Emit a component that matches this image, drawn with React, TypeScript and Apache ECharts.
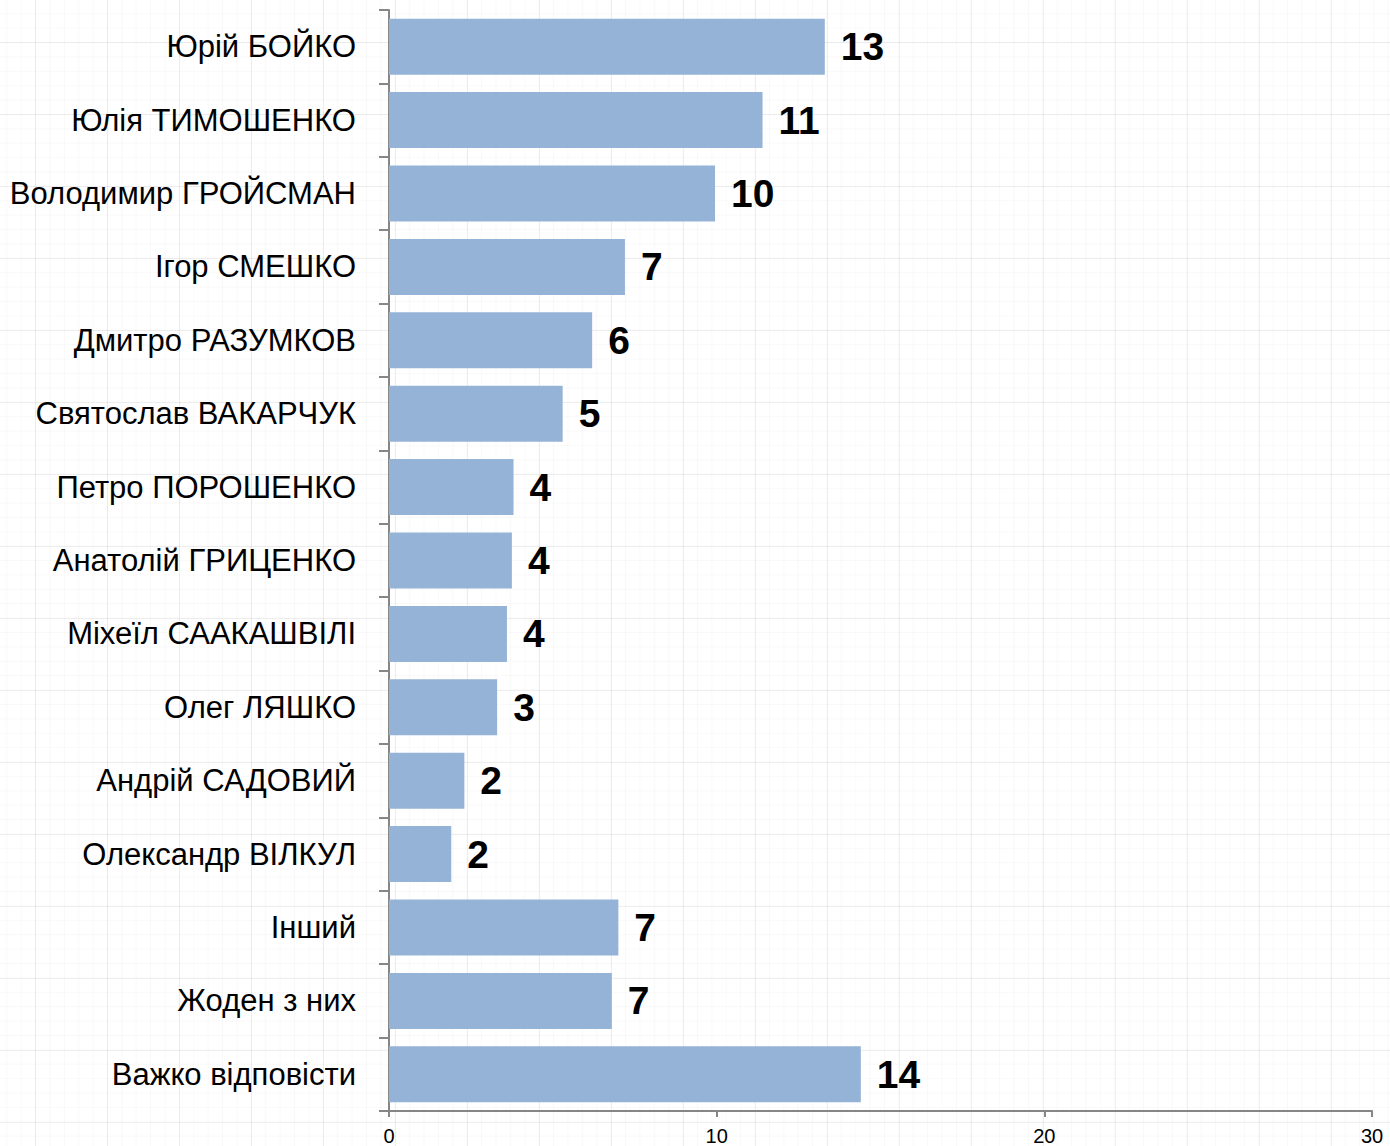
import React, { useEffect, useRef } from "react";
import * as echarts from "echarts";

const categories = [
  "Юрій БОЙКО",
  "Юлія ТИМОШЕНКО",
  "Володимир ГРОЙСМАН",
  "Ігор СМЕШКО",
  "Дмитро РАЗУМКОВ",
  "Святослав ВАКАРЧУК",
  "Петро ПОРОШЕНКО",
  "Анатолій ГРИЦЕНКО",
  "Міхеїл СААКАШВІЛІ",
  "Олег ЛЯШКО",
  "Андрій САДОВИЙ",
  "Олександр ВІЛКУЛ",
  "Інший",
  "Жоден з них",
  "Важко відповісти",
];

const values = [13.3, 11.4, 9.95, 7.2, 6.2, 5.3, 3.8, 3.75, 3.6, 3.3, 2.3, 1.9, 7.0, 6.8, 14.4];

const xTicks = [0, 10, 20, 30];

const bgStyle: React.CSSProperties = {
  position: "fixed",
  left: 0,
  top: 0,
  width: 1390,
  height: 1146,
  backgroundColor: "#ffffff",
  backgroundImage:
    "linear-gradient(to right, rgba(0,0,0,0.055) 1px, transparent 1px)," +
    "linear-gradient(to bottom, rgba(0,0,0,0.055) 1px, transparent 1px)," +
    "linear-gradient(to right, rgba(0,0,0,0.025) 1px, transparent 1px)," +
    "linear-gradient(to bottom, rgba(0,0,0,0.025) 1px, transparent 1px)",
  backgroundSize: "72px 72px, 72px 72px, 14.4px 14.4px, 14.4px 14.4px",
  backgroundPosition: "35px 42px, 35px 42px, 35px 42px, 35px 42px",
};

export default function App() {
  const ref = useRef<HTMLDivElement>(null);
  useEffect(() => {
    if (!ref.current) return;
    const chart = echarts.init(ref.current, null, { renderer: "svg" });
    chart.setOption({
      animation: false,
      backgroundColor: "transparent",
      grid: { left: 389, right: 18, top: 10, bottom: 35, containLabel: false, outerBoundsMode: "none" },
      xAxis: {
        type: "value",
        min: 0,
        max: 30,
        interval: 10,
        splitLine: { show: false },
        axisLine: { show: true, lineStyle: { color: "#868686", width: 2 } },
        axisTick: { show: true, length: 6, lineStyle: { color: "#868686", width: 2 } },
        axisLabel: {
          color: "#000",
          fontSize: 20,
          lineHeight: 18,
          fontFamily: "Liberation Sans, Arial, sans-serif",
          margin: 16,
          formatter: (v: number) => (xTicks.includes(v) ? String(v) : ""),
        },
      },
      yAxis: {
        type: "category",
        data: categories,
        inverse: true,
        axisLine: { show: true, lineStyle: { color: "#868686", width: 2 } },
        axisTick: { show: true, length: 10, lineStyle: { color: "#868686", width: 2 } },
        axisLabel: {
          color: "#000",
          fontSize: 31,
          fontFamily: "Liberation Sans, Arial, sans-serif",
          margin: 33,
        },
      },
      series: [
        {
          type: "bar",
          data: values,
          barWidth: 56,
          itemStyle: { color: "#95B3D7" },
          label: {
            show: true,
            position: "right",
            distance: 16,
            color: "#000",
            fontSize: 39,
            fontWeight: "bold",
            fontFamily: "Liberation Sans, Arial, sans-serif",
            formatter: (p: any) => String(Math.round(p.value)),
          },
        },
      ],
    });
    return () => chart.dispose();
  }, []);
  return (
    <div style={bgStyle}>
      <div ref={ref} style={{ width: 1390, height: 1146 }} />
    </div>
  );
}
